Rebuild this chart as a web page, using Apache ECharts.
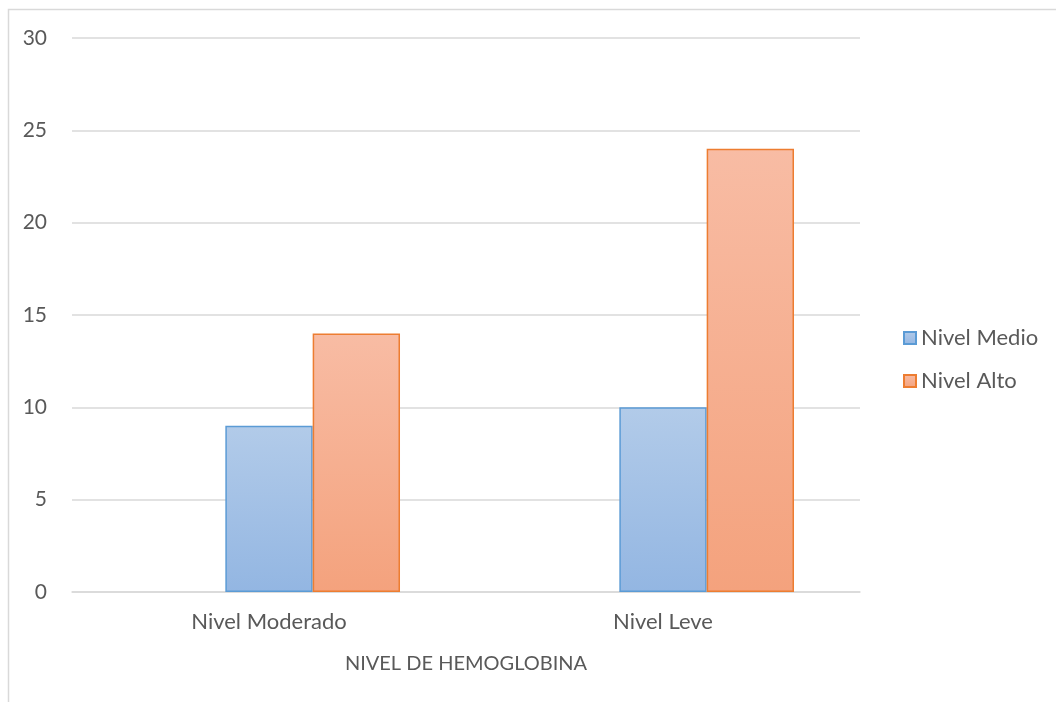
<!DOCTYPE html>
<html>
<head>
<meta charset="utf-8">
<script src="https://cdn.jsdelivr.net/npm/echarts@6/dist/echarts.min.js"></script>
<style>
  html, body { margin: 0; padding: 0; background: #fff; }
  #chart { width: 1056px; height: 702px; }
</style>
</head>
<body>
<div id="chart"></div>
<script>
// Hemoglobin level counts by group
const categories = ['Nivel Moderado', 'Nivel Leve'];
const seriesNames = ['Nivel Medio', 'Nivel Alto'];
const emptySlot = [null, null];   // no values: leading slot left empty in each group
const nivelMedio = [9, 10];
const nivelAlto = [14, 24];
const yTicks = { min: 0, max: 30, interval: 5 };
const axisTitle = 'NIVEL DE HEMOGLOBINA';

const font = 'Lato, "Open Sans", sans-serif';
const textColor = '#595959';

function grad(top, bottom) {
  return new echarts.graphic.LinearGradient(0, 0, 0, 1, [
    { offset: 0, color: top },
    { offset: 1, color: bottom }
  ]);
}

const barLayout = { barGap: '0%', barCategoryGap: '33.5%' };

const chart = echarts.init(document.getElementById('chart'), null, { renderer: 'canvas' });
chart.setOption({
  backgroundColor: '#fff',
  animation: false,
  textStyle: { fontFamily: font, color: textColor },
  graphic: [
    {
      type: 'polyline',
      shape: { points: [[8.5, 702], [8.5, 9.5], [1056, 9.5]] },
      style: { stroke: '#d9d9d9', lineWidth: 1.5, fill: null },
      silent: true
    }
  ],
  grid: { left: 72, right: 196, top: 38, bottom: 110 },
  legend: {
    orient: 'vertical',
    left: 898,
    top: 322,
    itemWidth: 12,
    itemHeight: 12,
    itemGap: 21,
    icon: 'rect',
    textStyle: { fontFamily: font, fontSize: 22, color: textColor, padding: [0, 0, 0, 0] },
    data: seriesNames
  },
  xAxis: {
    type: 'category',
    data: categories,
    name: axisTitle,
    nameLocation: 'middle',
    nameGap: 62,
    nameTextStyle: { fontFamily: font, fontSize: 20, color: textColor },
    axisLine: { lineStyle: { color: '#d9d9d9', width: 1.5 } },
    axisTick: { show: false },
    axisLabel: { fontFamily: font, fontSize: 22, color: textColor, margin: 19 }
  },
  yAxis: {
    type: 'value',
    min: yTicks.min,
    max: yTicks.max,
    interval: yTicks.interval,
    axisLine: { show: false },
    axisTick: { show: false },
    axisLabel: { fontFamily: font, fontSize: 21, color: textColor, margin: 25 },
    splitLine: { lineStyle: { color: '#d9d9d9', width: 1.5 } }
  },
  series: [
    Object.assign({
      name: '',
      type: 'bar',
      data: emptySlot
    }, barLayout),
    Object.assign({
      name: seriesNames[0],
      type: 'bar',
      data: nivelMedio,
      itemStyle: {
        color: grad('#b2cbe9', '#93b6e2'),
        borderColor: '#5b9bd5',
        borderWidth: 1.5
      }
    }, barLayout),
    Object.assign({
      name: seriesNames[1],
      type: 'bar',
      data: nivelAlto,
      itemStyle: {
        color: grad('#f8bca4', '#f4a27d'),
        borderColor: '#ed7d31',
        borderWidth: 1.5
      }
    }, barLayout)
  ]
});
</script>
</body>
</html>
